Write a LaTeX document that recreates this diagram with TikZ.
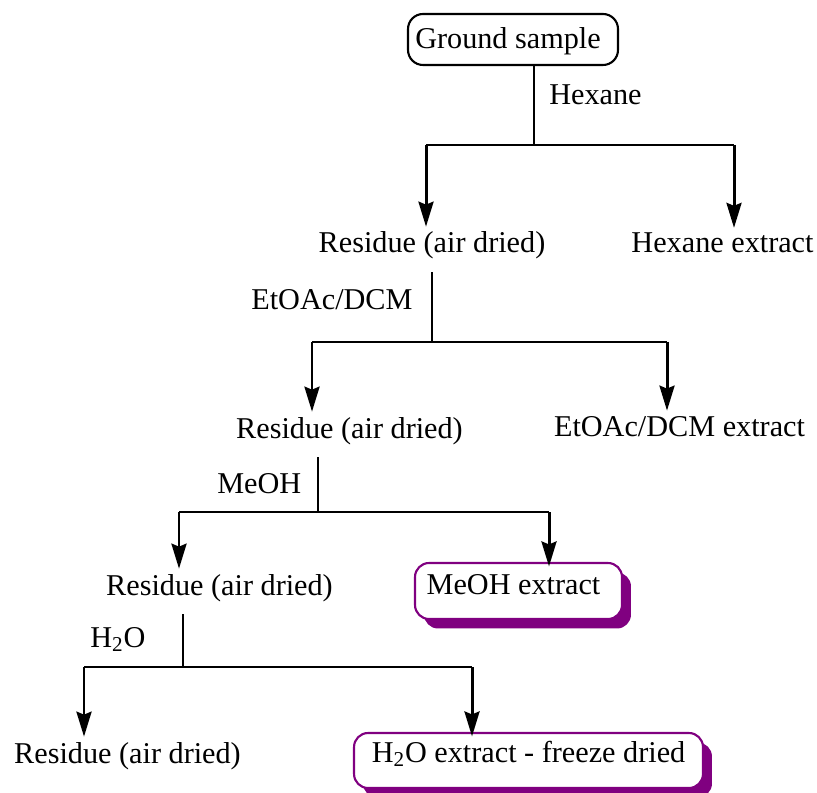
\documentclass[tikz,border=0pt]{standalone}
\usepackage{fontspec}
\setmainfont{Liberation Serif}
\usepackage{tikz}
\usetikzlibrary{arrows.meta, positioning, shadows}
\definecolor{extpurple}{RGB}{128,0,128}
\tikzset{
    base/.style={font=\fontsize{17.2pt}{20pt}\selectfont},
    txt/.style={base, anchor=base, inner sep=0.1cm, text depth=0.28cm},
    lbl/.style={base, anchor=base west, inner sep=0pt},
    block/.style={base, draw=black, line width=1.2pt, rectangle, rounded corners=0.3cm, fill=white},
    extblock/.style={base, draw=extpurple, line width=1.2pt, rectangle, rounded corners=0.28cm, fill=white,
        inner sep=0.09cm, text height=0.41cm,
        drop shadow={shadow xshift=0.18cm, shadow yshift=-0.19cm, fill=extpurple, opacity=1}},
    line/.style={draw=black, line width=1.2pt},
    drop/.style={draw=black, line width=1.7pt, -{Stealth[length=0.5cm, width=0.3cm, inset=0.06cm]}},
    into/.style={drop, shorten >=-0.09cm}
}

\begin{document}
\begin{tikzpicture}[x=0.02cm, y=-0.02cm]
    \useasboundingbox (0,0) rectangle (817,793);

    \node [block, minimum width=4.2cm, minimum height=1.02cm, text height=0.41cm, text depth=0.03cm] (Ground) at (513,39.5) {Ground sample\hspace*{0.2cm}};
    \node [txt] (Res1) at (432,253) {Residue (air dried)};
    \node [txt] (HexExt) at (722.5,253) {Hexane extract};
    \node [txt] (Res2) at (349.5,438) {Residue (air dried)};
    \node [txt] (EtExt) at (679.5,436) {EtOAc/DCM extract};
    \node [txt] (Res3) at (219.5,595) {Residue (air dried)};
    \node [extblock, minimum width=4.14cm, minimum height=1.12cm, text depth=0.29cm] (MeExt) at (518.5,591) {MeOH extract\hspace*{0.2cm}};
    \node [txt] (Res4) at (127.5,763) {Residue (air dried)};
    \node [extblock, minimum width=6.98cm, minimum height=1.1cm, text depth=0.35cm] (WaterExt) at (528.5,760.5) {H\textsubscript{2}O extract - freeze dried};

    % solvent labels
    \node [lbl] (LHex) at (549,105) {Hexane};
    \node [lbl] (LEt) at (251,310) {EtOAc/DCM};
    \node [lbl] (LMe) at (217,493) {MeOH};
    \node [lbl] (LWater) at (90,647) {H\textsubscript{2}O};

    % split points
    \coordinate (J1) at (534,145);  \coordinate (L1) at (426,145);  \coordinate (R1) at (734,145);
    \coordinate (J2) at (432,342);  \coordinate (L2) at (312,342);  \coordinate (R2) at (667,342);
    \coordinate (J3) at (318,512);  \coordinate (L3) at (179,512);  \coordinate (R3) at (549,512);
    \coordinate (J4) at (183,667);  \coordinate (L4) at (84,667);   \coordinate (R4) at (472,667);

    \draw [line] (Ground.south -| J1) -- (J1);
    \draw [line] (L1) -- (R1);
    \draw [drop] (L1) -- (Res1.north -| L1);
    \draw [drop] (R1) -- (HexExt.north -| R1);

    \draw [line] (Res1.south -| J2) -- (J2);
    \draw [line] (L2) -- (R2);
    \draw [drop] (L2) -- (Res2.north -| L2);
    \draw [drop] (R2) -- (EtExt.north -| R2);

    \draw [line] (Res2.south -| J3) -- (J3);
    \draw [line] (L3) -- (R3);
    \draw [drop] (L3) -- (Res3.north -| L3);
    \draw [into] (R3) -- (MeExt.north -| R3);

    \draw [line] (Res3.south -| J4) -- (J4);
    \draw [line] (L4) -- (R4);
    \draw [drop] (L4) -- (Res4.north -| L4);
    \draw [into] (R4) -- (WaterExt.north -| R4);
\end{tikzpicture}
\end{document}
